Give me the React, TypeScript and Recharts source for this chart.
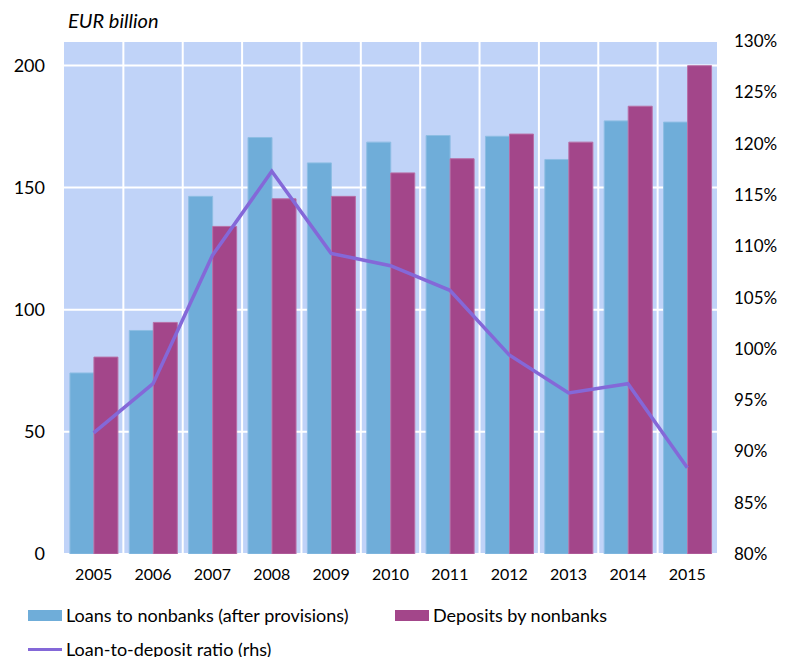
import React from 'react';
import { ComposedChart, Bar, Line, XAxis, YAxis, CartesianGrid } from 'recharts';

const years = ['2005', '2006', '2007', '2008', '2009', '2010', '2011', '2012', '2013', '2014', '2015'];
const loans = [74.1, 91.5, 146.4, 170.5, 160.1, 168.6, 171.3, 171.0, 161.5, 177.3, 176.8];
const deposits = [80.6, 94.8, 134.1, 145.4, 146.4, 156.0, 161.8, 171.9, 168.6, 183.3, 199.9];
const ratio = [91.8, 96.6, 109.1, 117.3, 109.3, 108.1, 105.7, 99.4, 95.7, 96.6, 88.4];
const leftTicks = [0, 50, 100, 150, 200];
const rightTicks = [80, 85, 90, 95, 100, 105, 110, 115, 120, 125, 130];

const LOAN_COLOR = '#6FADD9';
const DEP_COLOR = '#A3468A';
const LINE_COLOR = '#8468D8';
const BG = '#C0D3F8';
const FONT = 'Lato, "Open Sans", sans-serif';

const data = years.map((y, i) => ({ year: y, loans: loans[i], deposits: deposits[i], ratio: ratio[i] }));

export default function App() {
  return (
    <div style={{ width: 777, fontFamily: FONT, color: '#000', position: 'relative' }}>
      <div
        style={{
          position: 'absolute',
          left: 60,
          top: 0,
          fontStyle: 'italic',
          fontSize: 20,
          fontFamily: FONT,
        }}
      >
        EUR billion
      </div>
      <ComposedChart
        width={777}
        height={590}
        data={data}
        margin={{ top: 33, right: 0, left: 0, bottom: 0 }}
        barCategoryGap="10%"
        barGap={0}
        style={{ fontFamily: FONT }}
      >
        <CartesianGrid
          yAxisId="left"
          fill={BG}
          stroke="#FFFFFF"
          strokeWidth={2}
          strokeOpacity={1}
          verticalCoordinatesGenerator={({ offset }: any) =>
            years.slice(1).map((_, i) => offset.left + ((i + 1) * offset.width) / years.length)
          }
          syncWithTicks={false}
        />
        <XAxis
          dataKey="year"
          axisLine={false}
          tickLine={false}
          tickSize={0}
          tickMargin={15}
          height={44}
          interval={0}
          tick={{ fill: '#000', fontSize: 16, fontFamily: FONT }}
        />
        <YAxis
          yAxisId="left"
          orientation="left"
          domain={[0, 210]}
          ticks={leftTicks}
          allowDataOverflow
          axisLine={false}
          tickLine={false}
          tickSize={0}
          tickMargin={19}
          width={56}
          tick={{ fill: '#000', fontSize: 18, fontFamily: FONT }}
        />
        <YAxis
          yAxisId="right"
          orientation="right"
          domain={[80, 130]}
          ticks={rightTicks}
          allowDataOverflow
          axisLine={false}
          tickLine={false}
          tickSize={0}
          tickMargin={17}
          width={68}
          tickFormatter={(v: number) => `${v}%`}
          tick={{ fill: '#000', fontSize: 17, fontFamily: FONT }}
        />
        <Bar
          yAxisId="left"
          dataKey="loans"
          name="Loans to nonbanks (after provisions)"
          fill={LOAN_COLOR}
          stroke="#8DBDE3"
          strokeWidth={1}
          isAnimationActive={false}
        />
        <Bar
          yAxisId="left"
          dataKey="deposits"
          name="Deposits by nonbanks"
          fill={DEP_COLOR}
          stroke="#B86FA6"
          strokeWidth={1}
          isAnimationActive={false}
        />
        <Line
          yAxisId="right"
          dataKey="ratio"
          name="Loan-to-deposit ratio (rhs)"
          stroke={LINE_COLOR}
          strokeWidth={3.5}
          dot={false}
          activeDot={false}
          type="linear"
          isAnimationActive={false}
        />
      </ComposedChart>
      <div style={{ position: 'relative', height: 59, fontSize: 18, fontFamily: FONT }}>
        <div style={{ position: 'absolute', left: 20, top: 6, display: 'flex', alignItems: 'center' }}>
          <span style={{ display: 'inline-block', width: 34, height: 11, background: LOAN_COLOR, marginRight: 4 }} />
          <span>Loans to nonbanks (after provisions)</span>
        </div>
        <div style={{ position: 'absolute', left: 387, top: 6, display: 'flex', alignItems: 'center' }}>
          <span style={{ display: 'inline-block', width: 34, height: 11, background: DEP_COLOR, marginRight: 4 }} />
          <span>Deposits by nonbanks</span>
        </div>
        <div style={{ position: 'absolute', left: 20, top: 40, display: 'flex', alignItems: 'center' }}>
          <span style={{ display: 'inline-block', width: 34, height: 3, background: LINE_COLOR, marginRight: 4 }} />
          <span>Loan-to-deposit ratio (rhs)</span>
        </div>
      </div>
    </div>
  );
}
